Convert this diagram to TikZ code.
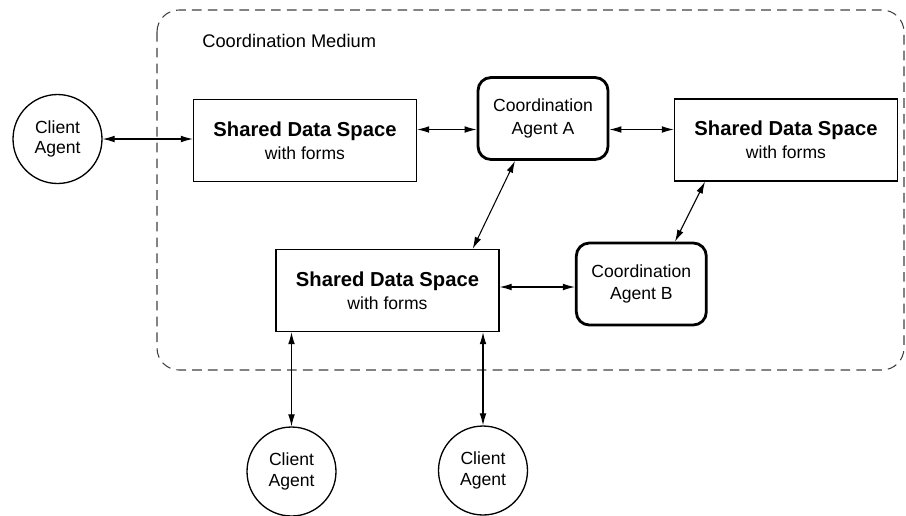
\documentclass[tikz,border=0pt]{standalone}
\usepackage{fontspec}
\setmainfont{Liberation Sans}
\usetikzlibrary{arrows.meta}
\tikzset{>={Latex[width=3.8pt,length=6.8pt]}}
\tikzset{
  sdsbox/.style={draw, line width=0.75pt, minimum width=4.46cm, minimum height=1.64cm,
    inner sep=0pt, align=center, font=\fontsize{10}{13}\selectfont},
  agentbox/.style={draw, line width=1.6pt, rounded corners=0.26cm, minimum width=2.6cm,
    minimum height=1.64cm, inner sep=0pt, align=center, font=\fontsize{10}{13}\selectfont},
  client/.style={draw, circle, line width=0.75pt, minimum size=1.78cm, inner sep=0pt,
    align=center, font=\fontsize{10}{11.5}\selectfont},
  link/.style={<->, line width=0.6pt},
}
\newcommand{\sdstext}{{\fontsize{11.5}{13}\selectfont\bfseries Shared Data Space}\\with forms}

\begin{document}
\begin{tikzpicture}[x=0.02cm, y=-0.02cm]
  \useasboundingbox (0,0) rectangle (906,515);

  % the medium
  \draw[line width=0.6pt, black!75, dash pattern=on 5.5pt off 3.5pt, rounded corners=0.44cm]
    (157,10) rectangle (904,370);
  \node[anchor=base west, inner sep=0pt, font=\fontsize{10.4}{12}\selectfont] (medium) at (202,47)
    {Coordination Medium};

  \node[sdsbox] (sds1) at (305,140.5) {\sdstext};
  \node[sdsbox] (sds2) at (786,140) {\sdstext};
  \node[sdsbox] (sds3) at (387.5,290.5) {\sdstext};

  \node[agentbox] (caA) at (543,118.5) {Coordination\\Agent A};
  \node[agentbox] (caB) at (641.3,284) {Coordination\\Agent B};

  \node[client] (client1) at (57.5,139) {Client\\Agent};
  \node[client] (client2) at (291.5,471.5) {Client\\Agent};
  \node[client] (client3) at (483,470.5) {Client\\Agent};

  \coordinate (r1) at (0,129.5);
  \coordinate (r2) at (0,287);
  \coordinate (d1) at (515,0);
  \coordinate (d2) at (472.7,0);
  \coordinate (d3) at (705,0);
  \coordinate (d4) at (675,0);

  \draw[link] (client1.east) -- (sds1.west |- client1.east);
  \draw[link] (sds1.east |- r1) -- (caA.west |- r1);
  \draw[link] (caA.east |- r1) -- (sds2.west |- r1);
  \draw[link] (caA.south -| d1) -- (sds3.north -| d2);
  \draw[link] (sds2.south -| d3) -- (caB.north -| d4);
  \draw[link] (sds3.east |- r2) -- (caB.west |- r2);
  \draw[link] (sds3.south -| client2.north) -- (client2.north);
  \draw[link] (sds3.south -| client3.north) -- (client3.north);

\end{tikzpicture}
\end{document}
